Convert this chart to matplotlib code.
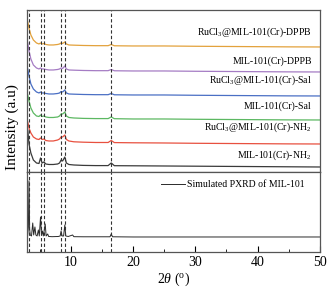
import numpy as np
import matplotlib
matplotlib.use("Agg")
import matplotlib.pyplot as plt

plt.rcParams['font.family'] = ['Liberation Serif', 'DejaVu Serif']
plt.rcParams['mathtext.fontset'] = 'custom'
plt.rcParams['mathtext.rm'] = 'Liberation Serif'
plt.rcParams['mathtext.it'] = 'Liberation Serif:italic'

# 2theta grid
tt = [3.1, 3.3, 3.6, 4.0, 4.5, 4.9, 5.15, 5.4, 5.7, 6.0, 6.5, 7.2, 7.9, 8.2, 8.45, 8.7,
      9.05, 9.3, 9.7, 10.5, 12, 14, 16.0, 16.5, 17.0, 20, 25, 30, 35, 40, 45, 50]

# heights above each curve's own baseline
ru_dppb = [24, 18, 11, 6, 3, 2, 3, 2, 2.5, 1.5, 1, 1, 1.5, 2, 3, 2.5,
           4, 2, 1, 0.8, 0.5, 0.3, 0.3, 1.5, 0.2, 0, 0, -0.3, -0.5, -0.7, -0.9, -1]
mil_dppb = [28, 20, 12, 6, 3, 2, 3, 2, 2, 1.5, 1, 1, 1.5, 2, 3, 2.5,
            5, 2, 1, 0.8, 0.5, 0.3, 0.3, 1.5, 0.2, 0, 0, -0.3, -0.5, -0.7, -0.9, -1]
ru_sal = [26, 19, 11, 6, 3, 2, 3, 2, 2, 1.5, 1, 1, 1.5, 2, 3.5, 3,
          5, 2, 1, 0.8, 0.5, 0.3, 0.3, 1.5, 0.2, 0, 0, -0.3, -0.5, -0.7, -0.9, -1]
mil_sal = [24, 18, 11, 6, 3, 2.5, 4, 2.5, 3, 2, 1.5, 1.5, 2, 3, 5, 5,
           7, 3, 1.5, 1, 0.6, 0.4, 0.4, 2, 0.3, 0, 0, -0.3, -0.5, -0.7, -0.9, -1]
ru_nh2 = [21, 15, 10, 6, 4, 3.5, 5, 3.5, 4, 2.5, 2, 2, 3, 4, 6, 6,
          8, 3.5, 2, 1.2, 0.8, 0.5, 0.5, 2.5, 0.4, 0.2, 0, -0.3, -0.5, -0.7, -0.9, -1]
mil_nh2 = [36, 22, 13, 6, 3, 2.5, 8, 3, 4, 2, 1.5, 1.5, 2, 3, 6, 5,
           9, 3, 1.5, 1, 0.6, 0.4, 0.4, 3, 0.3, 0.2, 0, -0.2, -0.4, -0.6, -0.8, -1]

curves = [mil_nh2, ru_nh2, mil_sal, ru_sal, mil_dppb, ru_dppb]
labels = ['MIL-101(Cr)-NH$_2$', 'RuCl$_3$@MIL-101(Cr)-NH$_2$', 'MIL-101(Cr)-Sal',
          'RuCl$_3$@MIL-101(Cr)-Sal', 'MIL-101(Cr)-DPPB', 'RuCl$_3$@MIL-101(Cr)-DPPB']
colors = ['#3a3a3a', '#e8503f', '#5cb862', '#4a6fc4', '#a57cc4', '#e3a23c']
offsets = [6, 29, 53, 77, 101, 126]
label_gap = [11, 16, 13, 15, 10, 14]

# simulated pattern
sim_tt = [3.05, 3.2, 3.3, 3.4, 3.5, 3.7, 3.9, 4.05, 4.25, 4.4, 4.6, 4.8, 4.95, 5.15, 5.3,
          5.45, 5.6, 5.9, 6.05, 6.3, 6.45, 7.0, 8.0, 8.3, 8.45, 8.6, 8.85, 9.05, 9.2, 9.6,
          10.3, 10.5, 12, 16.3, 16.5, 16.7, 20, 50]
sim_I = [0, 10, 56, 8, 2, 1, 14, 2, 10, 2, 1, 7, 1, 20, 2,
         6, 1, 13, 1, 3, 0.5, 0.3, 0.5, 1, 6, 1, 1, 12, 1, 0.5,
         2, 0.3, 0.2, 0.2, 3, 0.2, 0, 0]

dashed = [3.3, 5.15, 5.7, 8.45, 9.05, 16.5]

fig = plt.figure(figsize=(3.35, 2.93), dpi=100)
ax1 = fig.add_axes([0.081, 0.413, 0.874, 0.553])
ax2 = fig.add_axes([0.081, 0.140, 0.874, 0.273], sharex=ax1)

for y, lab, c, off, g in zip(curves, labels, colors, offsets, label_gap):
    ax1.plot(tt, np.array(y) + off, color=c, lw=0.9)
    ax1.text(48.7, off + g, lab, ha='right', va='center', fontsize=7)

ax2.plot(sim_tt, np.array(sim_I) + 15, color='#2a2a2a', lw=0.7,
         label='Simulated PXRD of MIL-101')
ax2.legend(loc='upper right', frameon=False, fontsize=7, handlelength=2.4,
           handletextpad=0.2, borderaxespad=0.3, bbox_to_anchor=(0.97, 0.98))

for ax in (ax1, ax2):
    for d in dashed:
        ax.axvline(d, color='#333333', ls=(0, (3, 2)), lw=0.8)
    ax.set_yticks([])
    for s in ax.spines.values():
        s.set_color('#555555')
        s.set_linewidth(0.9)

ax1.set_ylim(0, 162)
ax2.set_ylim(0, 80)
ax1.set_xlim(3, 50)
ax2.set_xticks([10, 20, 30, 40, 50])
ax2.set_xticks([5, 15, 25, 35, 45], minor=True)
ax2.tick_params(axis='x', which='major', direction='in', length=4, labelsize=10, pad=3)
ax2.tick_params(axis='x', which='minor', direction='in', length=2)
ax1.tick_params(axis='x', which='both', bottom=False, labelbottom=False)
ax2.set_xlabel(r'$2\theta$ ($^{\rm o}$)', fontsize=10, labelpad=1)

fig.text(0.036, 0.567, 'Intensity (a.u)', rotation=90, ha='center', va='center', fontsize=11)

fig.savefig('out.png', dpi=100)
